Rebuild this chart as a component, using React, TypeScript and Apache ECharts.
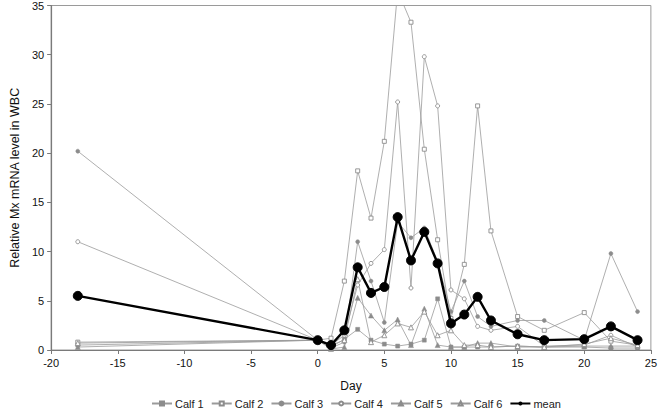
import React, { useEffect, useRef } from "react";
import * as echarts from "echarts";

const days = [-18, 0, 1, 2, 3, 4, 5, 6, 7, 8, 9, 10, 11, 12, 13, 15, 17, 20, 22, 24];
const calf1 = [0.5, 1, 0.3, 1.1, 2.1, 1.0, 0.6, 0.4, 0.6, 1.0, 5.2, 0.3, 0.3, 0.3, 0.3, 0.4, 0.3, 0.3, 0.2, 0.2];
const calf2 = [0.8, 1, 1.2, 7.0, 18.2, 13.4, 21.2, 36.5, 33.3, 20.4, 11.2, 3.2, 8.7, 24.8, 12.1, 3.4, 2.0, 3.8, 0.9, 0.5];
const calf3 = [20.2, 1, 0.2, 0.8, 11.0, 7.0, 2.8, 13.0, 11.4, 12.4, 9.0, 3.9, 7.0, 3.4, 2.4, 3.0, 3.0, 1.0, 9.8, 3.9];
const calf4 = [11.0, 1, 0.5, 1.5, 6.6, 8.8, 10.2, 25.2, 6.3, 29.8, 24.8, 6.1, 5.2, 2.4, 2.0, 2.4, 0.4, 0.5, 1.5, 0.3];
const calf5 = [0.3, 1, 0.1, 0.3, 5.3, 3.5, 2.0, 3.1, 0.5, 4.2, 0.5, 0.3, 0.3, 0.7, 0.7, 0.3, 0.3, 0.4, 0.4, 0.4];
const calf6 = [0.7, 1, 0.5, 1.0, 7.2, 0.8, 1.5, 2.7, 2.3, 3.9, 1.5, 2.0, 0.5, 0.5, 0.3, 0.4, 0.3, 0.6, 1.2, 0.5];
const meanVals = [5.5, 1.0, 0.5, 2.0, 8.4, 5.8, 6.4, 13.5, 9.1, 12.0, 8.8, 2.7, 3.6, 5.4, 3.0, 1.6, 1.0, 1.1, 2.4, 1.0];

const seriesNames = ["Calf 1", "Calf 2", "Calf 3", "Calf 4", "Calf 5", "Calf 6", "mean"];

const FONT = "Liberation Sans, Arial, sans-serif";

function pairs(vals: number[]) {
  return days.map((d, i) => [d, vals[i]]);
}

function calfSeries(name: string, vals: number[], symbol: string, filled: boolean, color: string) {
  return {
    name,
    type: "line",
    data: pairs(vals),
    symbol,
    symbolSize: symbol === "triangle" ? 5 : 4,
    showAllSymbol: true,
    lineStyle: { color: "#9a9a9a", width: 0.8 },
    itemStyle: filled
      ? { color, borderColor: color, borderWidth: 0.5 }
      : { color: "#ffffff", borderColor: color, borderWidth: 0.9 },
    emphasis: { disabled: true },
    z: 2,
  };
}

export default function App() {
  const ref = useRef<HTMLDivElement>(null);
  useEffect(() => {
    if (!ref.current) return;
    const chart = echarts.init(ref.current, undefined, { renderer: "svg" });
    chart.setOption({
      animation: false,
      backgroundColor: "#ffffff",
      textStyle: { fontFamily: FONT },
      grid: {
        left: 41,
        right: 7,
        top: 5,
        bottom: 69,
        show: true,
        borderColor: "#9a9a9a",
        borderWidth: 1,
        backgroundColor: "transparent",
      },
      xAxis: {
        type: "value",
        min: -20,
        max: 25,
        interval: 5,
        name: "Day",
        nameLocation: "middle",
        nameGap: 30,
        nameTextStyle: { fontFamily: FONT, fontSize: 12, color: "#111" },
        axisLine: { show: true, onZero: false, lineStyle: { color: "#7a7a7a", width: 1.2 } },
        axisTick: { show: true, length: 4, lineStyle: { color: "#7a7a7a" } },
        axisLabel: { fontFamily: FONT, fontSize: 11, color: "#111", margin: 7 },
        splitLine: { show: false },
      },
      yAxis: {
        type: "value",
        min: 0,
        max: 35,
        interval: 5,
        name: "Relative Mx mRNA level in WBC",
        nameLocation: "middle",
        nameGap: 25,
        nameTextStyle: { fontFamily: FONT, fontSize: 12.5, color: "#111" },
        axisLine: { show: true, onZero: false, lineStyle: { color: "#7a7a7a", width: 1.2 } },
        axisTick: { show: true, length: 4, lineStyle: { color: "#7a7a7a" } },
        axisLabel: { fontFamily: FONT, fontSize: 11, color: "#111", margin: 7 },
        splitLine: { show: false },
      },
      legend: {
        data: seriesNames,
        bottom: 5,
        left: 146,
        itemWidth: 20,
        itemHeight: 5,
        itemGap: 7,
        textStyle: { fontFamily: FONT, fontSize: 11, color: "#222", padding: [0, 0, 0, -2] },
      },
      series: [
        calfSeries("Calf 1", calf1, "rect", true, "#8c8c8c"),
        calfSeries("Calf 2", calf2, "rect", false, "#8c8c8c"),
        calfSeries("Calf 3", calf3, "circle", true, "#8c8c8c"),
        calfSeries("Calf 4", calf4, "circle", false, "#8c8c8c"),
        calfSeries("Calf 5", calf5, "triangle", true, "#8c8c8c"),
        calfSeries("Calf 6", calf6, "triangle", false, "#8c8c8c"),
        {
          name: "mean",
          type: "line",
          data: pairs(meanVals),
          symbol: "circle",
          symbolSize: 9,
          showAllSymbol: true,
          lineStyle: { color: "#000", width: 2.4 },
          itemStyle: { color: "#000", borderColor: "#000" },
          emphasis: { disabled: true },
          z: 5,
        },
      ],
    });
    return () => chart.dispose();
  }, []);
  return <div ref={ref} style={{ width: 660, height: 419, position: "absolute", left: 0, top: 0 }} />;
}
